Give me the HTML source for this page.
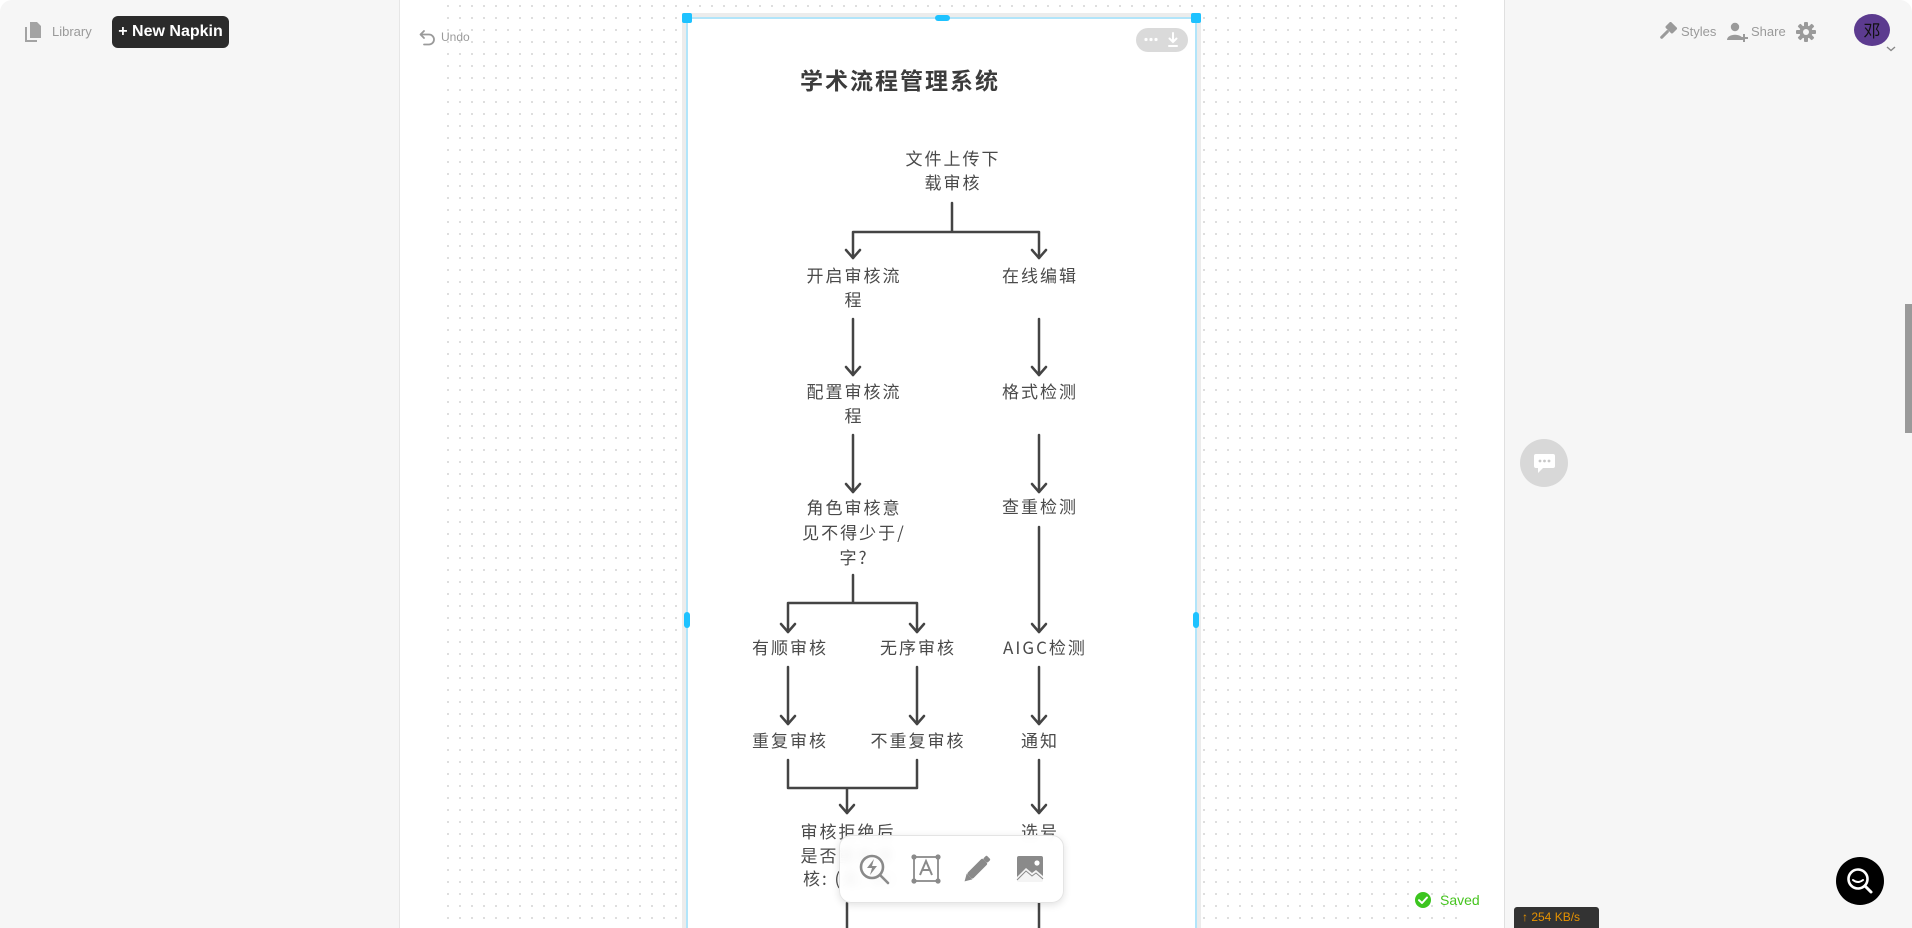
<!DOCTYPE html>
<html><head><meta charset="utf-8">
<style>
*{margin:0;padding:0;box-sizing:border-box}
html,body{width:1912px;height:928px;overflow:hidden;background:#fff;font-family:"Liberation Sans","Noto Sans CJK SC",sans-serif}
#root{position:relative;width:1912px;height:928px;overflow:hidden}
.abs{position:absolute}
.t{position:absolute;width:200px;padding-left:2px;text-align:center;font-family:"Noto Sans CJK SC","WenQuanYi Zen Hei",sans-serif;font-size:17px;line-height:24px;letter-spacing:2px;color:#4a4a4a;white-space:nowrap}
.ui{color:#9a9a9a;font-size:13px;position:absolute}
</style></head><body>
<div id="root">

<!-- side panels -->
<div class="abs" style="left:0;top:0;width:400px;height:928px;background:#f6f6f6;border-right:1px solid #e6e6e6;border-top-left-radius:12px"></div>
<div class="abs" style="left:1504px;top:0;width:408px;height:928px;background:#f6f6f6;border-left:1px solid #e0e0e0;border-top-right-radius:12px"></div>

<!-- dot grid -->
<svg class="abs" style="left:447px;top:5px" width="1011" height="923">
<defs><pattern id="dp" width="12" height="12" patternUnits="userSpaceOnUse"><rect x="0" y="0" width="2" height="2" fill="#dedede"/></pattern></defs>
<rect width="1011" height="923" fill="url(#dp)"/>
</svg>

<!-- top-left UI -->
<svg class="abs" style="left:24px;top:21px" width="20" height="22">
<path d="M2 6 V20 H13" fill="none" stroke="#a3a3a3" stroke-width="2"/>
<path d="M6 1 H13 L17 5 V17 H6 Z" fill="#a3a3a3"/>
</svg>
<div class="ui" style="left:52px;top:24px">Library</div>
<div class="abs" style="left:112px;top:16px;width:117px;height:32px;background:#2b2b2b;border-radius:6px;color:#fff;font-weight:bold;font-size:16px;line-height:32px;text-align:center">+ New Napkin</div>

<!-- Undo -->
<svg class="abs" style="left:419px;top:29px" width="18" height="18">
<path d="M5 2 L1.5 5.5 L5 9" fill="none" stroke="#9a9a9a" stroke-width="1.8" stroke-linecap="round" stroke-linejoin="round"/>
<path d="M2 5.5 H10 A5 5 0 0 1 10 15.5 H5" fill="none" stroke="#9a9a9a" stroke-width="1.8" stroke-linecap="round"/>
</svg>
<div class="ui" style="left:441px;top:30px;font-size:12px">Undo</div>

<!-- top-right UI -->
<svg class="abs" style="left:1656px;top:22px" width="22" height="20">
<g transform="rotate(45 11 10)"><rect x="6" y="0" width="10" height="8" rx="1.5" fill="#9a9a9a"/><rect x="9.5" y="8" width="3" height="11" rx="1.5" fill="#9a9a9a"/></g>
</svg>
<div class="ui" style="left:1681px;top:24px">Styles</div>
<svg class="abs" style="left:1727px;top:22px" width="22" height="20">
<circle cx="8" cy="5" r="4.2" fill="#9a9a9a"/><path d="M0 18 C0 11 16 11 16 18 Z" fill="#9a9a9a"/>
<path d="M17 12 V20 M13 16 H21" stroke="#9a9a9a" stroke-width="2"/>
</svg>
<div class="ui" style="left:1751px;top:24px">Share</div>
<svg class="abs" style="left:1796px;top:22px" width="20" height="20">
<g fill="#9a9a9a"><rect x="8" y="0" width="4" height="20" rx="1"/><rect x="8" y="0" width="4" height="20" rx="1" transform="rotate(45 10 10)"/><rect x="8" y="0" width="4" height="20" rx="1" transform="rotate(90 10 10)"/><rect x="8" y="0" width="4" height="20" rx="1" transform="rotate(135 10 10)"/></g>
<circle cx="10" cy="10" r="6.5" fill="#9a9a9a"/><circle cx="10" cy="10" r="3" fill="#f6f6f6"/>
</svg>
<div class="abs" style="left:1854px;top:14px;width:36px;height:32px;border-radius:50%;background:#5c3b8f;color:#111;font-family:'Noto Sans CJK SC',sans-serif;font-size:17px;line-height:32px;text-align:center">邓</div>
<svg class="abs" style="left:1885px;top:45px" width="12" height="8"><path d="M2 2 L6 5.5 L10 2" fill="none" stroke="#888" stroke-width="1.4"/></svg>

<!-- napkin -->
<div class="abs" style="left:682px;top:13px;width:519px;height:930px;background:#ececec"></div>
<div class="abs" style="left:686px;top:17px;width:511px;height:930px;background:#fff;border:2px solid #b2e5fa"></div>
<div class="abs" style="left:682px;top:13px;width:10px;height:10px;border-radius:2px;background:#1ec2ff"></div>
<div class="abs" style="left:1191px;top:13px;width:10px;height:10px;border-radius:2px;background:#1ec2ff"></div>
<div class="abs" style="left:935px;top:15px;width:15px;height:6px;border-radius:3px;background:#1ec2ff"></div>
<div class="abs" style="left:684px;top:612px;width:6px;height:16px;border-radius:3px;background:#1ec2ff"></div>
<div class="abs" style="left:1193px;top:612px;width:6px;height:16px;border-radius:3px;background:#1ec2ff"></div>

<div class="abs" style="left:1136px;top:28px;width:52px;height:24px;border-radius:12px;background:#dadada"></div>
<svg class="abs" style="left:1136px;top:28px" width="52" height="24">
<circle cx="10" cy="11.5" r="1.6" fill="#fff"/><circle cx="15" cy="11.5" r="1.6" fill="#fff"/><circle cx="20" cy="11.5" r="1.6" fill="#fff"/>
<path d="M37 5 V14 M33.5 10.5 L37 14 L40.5 10.5 M33 18 H41" fill="none" stroke="#fff" stroke-width="2" stroke-linecap="round"/>
</svg>

<!-- title -->
<div class="abs" style="left:800px;top:64px;width:210px;font-family:'Noto Sans CJK SC',sans-serif;font-weight:bold;font-size:23px;line-height:30px;letter-spacing:2px;color:#3c3c3c;white-space:nowrap">学术流程管理系统</div>

<!-- nodes -->
<div class="t" style="left:852px;top:146px">文件上传下<br>载审核</div>
<div class="t" style="left:753px;top:263px">开启审核流<br>程</div>
<div class="t" style="left:939px;top:263px">在线编辑</div>
<div class="t" style="left:753px;top:379px">配置审核流<br>程</div>
<div class="t" style="left:939px;top:379px">格式检测</div>
<div class="t" style="left:753px;top:494px;line-height:25px">角色审核意<br>见不得少于/<br>字?</div>
<div class="t" style="left:939px;top:494px">查重检测</div>
<div class="t" style="left:689px;top:635px">有顺审核</div>
<div class="t" style="left:817px;top:635px">无序审核</div>
<div class="t" style="left:944px;top:635px">AIGC检测</div>
<div class="t" style="left:689px;top:728px">重复审核</div>
<div class="t" style="left:817px;top:728px">不重复审核</div>
<div class="t" style="left:939px;top:728px">通知</div>
<div class="t" style="left:747px;top:819px">审核拒绝后<br>是否重新审</div>
<div class="t" style="left:801px;top:866px;width:auto;text-align:left">核: (是/否)</div>
<div class="t" style="left:939px;top:819px">选号</div>

<!-- connectors -->
<svg class="abs" style="left:0;top:0" width="1912" height="928">
<g stroke="#444" stroke-width="2.5" fill="none" stroke-linecap="round" stroke-linejoin="round">
<path d="M952 203V232M853 258V232H1039V258"/>
<path d="M846 250L853 258L860 250M1032 250L1039 258L1046 250"/>
<path d="M853 319V375M1039 319V375"/>
<path d="M846 367L853 375L860 367M1032 367L1039 375L1046 367"/>
<path d="M853 435V492M1039 435V492"/>
<path d="M846 484L853 492L860 484M1032 484L1039 492L1046 484"/>
<path d="M853 575V603M788 632V603H917V632"/>
<path d="M781 624L788 632L795 624M910 624L917 632L924 624"/>
<path d="M1039 527V632"/>
<path d="M1032 624L1039 632L1046 624"/>
<path d="M788 667V724M917 667V724M1039 667V724"/>
<path d="M781 716L788 724L795 716M910 716L917 724L924 716M1032 716L1039 724L1046 716"/>
<path d="M788 760V788H917V760M847 788V813"/>
<path d="M840 805L847 813L854 805"/>
<path d="M1039 760V813"/>
<path d="M1032 805L1039 813L1046 805"/>
<path d="M847 903V935M1039 903V935"/>
</g>
</svg>

<!-- floating toolbar -->
<div class="abs" style="left:839px;top:835px;width:225px;height:68px;border-radius:12px;background:rgba(255,255,255,0.93);backdrop-filter:blur(4px);border:1px solid #e4e4e4;box-shadow:0 2px 8px rgba(0,0,0,0.12)"></div>
<svg class="abs" style="left:839px;top:835px" width="225" height="68">
<circle cx="33" cy="32" r="11" fill="none" stroke="#8a8a8a" stroke-width="2.6"/>
<path d="M41 40 L49 48" stroke="#8a8a8a" stroke-width="2.6" stroke-linecap="round"/>
<path d="M35 24 L28 33 H33 L31 40 L38 31 H33 Z" fill="#8a8a8a"/>
<rect x="75" y="22" width="24" height="24" fill="none" stroke="#8a8a8a" stroke-width="1.8"/>
<circle cx="75" cy="22" r="2.6" fill="#8a8a8a"/><circle cx="99" cy="22" r="2.6" fill="#8a8a8a"/><circle cx="75" cy="46" r="2.6" fill="#8a8a8a"/><circle cx="99" cy="46" r="2.6" fill="#8a8a8a"/>
<path d="M81 40 L87 26 L93 40 M83.5 35 H90.5" fill="none" stroke="#8a8a8a" stroke-width="2"/>
<g transform="rotate(-45 139 33)"><rect x="127" y="29" width="22" height="8" rx="2" fill="#8a8a8a"/><path d="M127 29 L120 33 L127 37 Z" fill="#8a8a8a"/><rect x="149" y="30" width="5" height="6" rx="1.5" fill="#8a8a8a"/></g>
<rect x="178" y="21" width="26" height="26" rx="2" fill="#8a8a8a"/>
<path d="M178 42 L187 33 L193 38 L197 35 L204 41 V47 H178 Z" fill="#fff" opacity="0.9"/>
<path d="M178 45 L187 36 L193 41 L197 38 L204 44" fill="none" stroke="#8a8a8a" stroke-width="1"/>
<circle cx="198" cy="28" r="2.6" fill="#fff"/>
</svg>

<!-- chat button -->
<div class="abs" style="left:1520px;top:439px;width:48px;height:48px;border-radius:50%;background:#d8d8d8"></div>
<svg class="abs" style="left:1520px;top:439px" width="48" height="48">
<rect x="14" y="15" width="21" height="14" rx="2" fill="#fff"/><path d="M18 28 L18 34 L24 28 Z" fill="#fff"/>
<circle cx="20" cy="22" r="1.4" fill="#c8c8c8"/><circle cx="24.5" cy="22" r="1.4" fill="#c8c8c8"/><circle cx="29" cy="22" r="1.4" fill="#c8c8c8"/>
</svg>

<!-- scrollbar -->
<div class="abs" style="left:1905px;top:304px;width:7px;height:129px;background:#9a9a9a"></div>

<!-- saved -->
<svg class="abs" style="left:1414px;top:891px" width="18" height="18">
<circle cx="9" cy="9" r="8" fill="#3cc51f"/><path d="M5 9.2 L8 12 L13 6.5" fill="none" stroke="#fff" stroke-width="2" stroke-linecap="round" stroke-linejoin="round"/>
</svg>
<div class="abs" style="left:1440px;top:891px;font-size:14px;line-height:18px;color:#46c41f">Saved</div>

<!-- speed box -->
<div class="abs" style="left:1514px;top:907px;width:85px;height:21px;background:#333;border-radius:3px 3px 0 0;color:#e69200;font-size:12px;line-height:21px;padding-left:8px;white-space:nowrap">↑ 254 KB/s</div>

<!-- search button -->
<div class="abs" style="left:1836px;top:857px;width:48px;height:48px;border-radius:50%;background:#000"></div>
<svg class="abs" style="left:1836px;top:857px" width="48" height="48">
<circle cx="22" cy="22" r="9.5" fill="none" stroke="#fff" stroke-width="2.6"/>
<path d="M29 29 L35 35" stroke="#fff" stroke-width="3" stroke-linecap="round"/>
<path d="M17 23 Q22 27 27 23" fill="none" stroke="#fff" stroke-width="2" stroke-linecap="round"/>
</svg>

</div>
</body></html>
